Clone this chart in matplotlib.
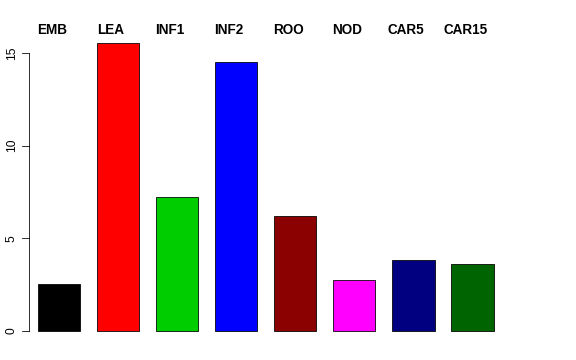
import matplotlib
matplotlib.use("Agg")
import matplotlib.pyplot as plt

names = ["EMB", "LEA", "INF1", "INF2", "ROO", "NOD", "CAR5", "CAR15"]
values = [2.54, 15.55, 7.22, 14.52, 6.22, 2.75, 3.82, 3.6]
colors = ["black", "red", "#00CD00", "blue", "#8B0000", "magenta", "#000080", "#006400"]
yticks = [0, 5, 10, 15]

plt.rcParams["font.family"] = ["Liberation Sans", "DejaVu Sans"]

fig = plt.figure(figsize=(8, 5), dpi=72)
ax = fig.add_axes([0, 0, 1, 1])
ax.set_xlim(-0.999, 8.752)
ax.set_ylim(-1.565, 17.863)
ax.axis("off")

x = list(range(len(names)))
ax.bar(x, values, width=0.714, color=colors, edgecolor="black", linewidth=0.8)

# y axis drawn R style
xa = -0.508
ax.plot([xa, xa], [yticks[0], yticks[-1]], color="black", lw=0.8)
for t in yticks:
    ax.plot([xa - 0.12, xa], [t, t], color="black", lw=0.8)
    ax.text(-0.80, t, str(t), rotation=90, ha="center", va="center", fontsize=12)

# names sit slightly left of bar centres in the original
for i, n in enumerate(names):
    ax.text(i - 0.12, 16.25, n, ha="center", va="center", fontsize=13.5, fontweight="bold")

fig.savefig("out.png", dpi=72)
